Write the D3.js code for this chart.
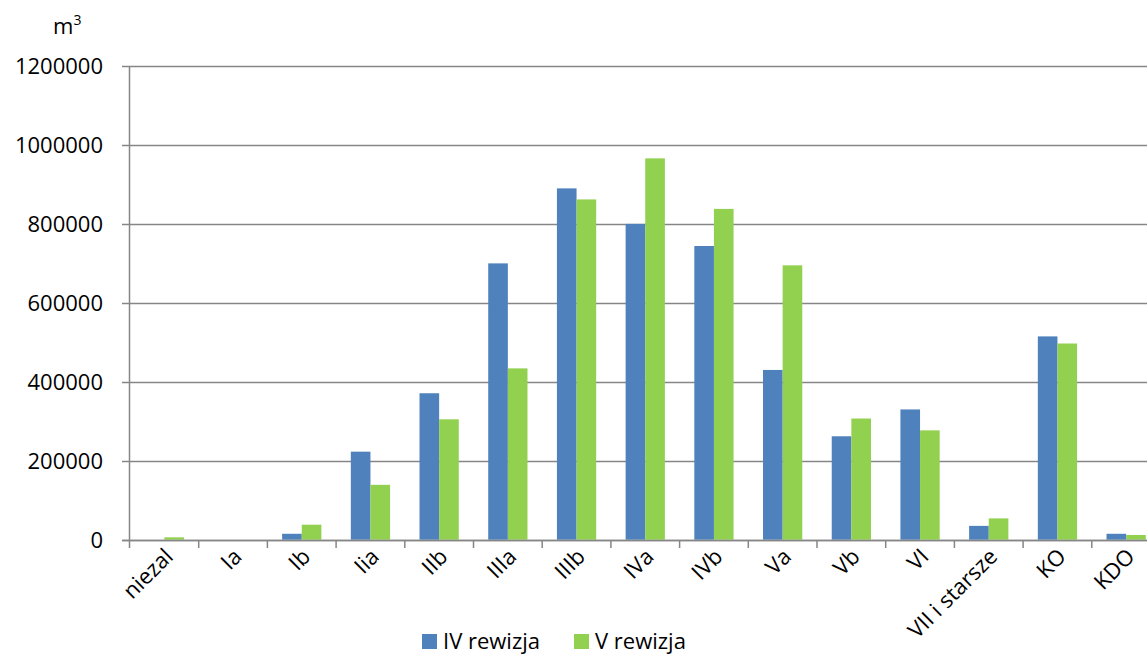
<!DOCTYPE html>
<html><head><meta charset="utf-8">
<script src="https://cdn.jsdelivr.net/npm/d3@7"></script>
<style>body{margin:0;background:#fff;overflow:hidden}svg{display:block;font-family:"Open Sans",sans-serif}</style>
</head><body>
<script>
const categories = ["niezal","Ia","Ib","Iia","IIb","IIIa","IIIb","IVa","IVb","Va","Vb","VI","VII i starsze","KO","KDO"];
const seriesIV = [0,0,15000,223000,371000,700000,890000,800000,744000,430000,262000,330000,35000,515000,15000];
const seriesV = [6000,0,38000,139000,305000,434000,862000,966000,838000,695000,307000,277000,54000,497000,12000];
const seriesNames = ["IV rewizja","V rewizja"];
const colors = ["#4F81BD","#92D050"];
const yTicks = [0,200000,400000,600000,800000,1000000,1200000];

const W=1147,H=655;
const svg=d3.select("body").append("svg").attr("width",W).attr("height",H);
const x0=d3.scaleBand().domain(categories).range([130,1160.5]).paddingInner(0).paddingOuter(0);
const y=d3.scaleLinear().domain([0,1200000]).range([539.7,66]);
const bw=x0.bandwidth()/3.5;
const x1=d3.scaleBand().domain([0,1]).range([0.75*bw,2.75*bw]);

svg.append("g").selectAll("line").data(yTicks).join("line")
 .attr("x1",122).attr("x2",W).attr("y1",d=>Math.round(y(d))+0.5).attr("y2",d=>Math.round(y(d))+0.5)
 .attr("stroke","#868686").attr("stroke-width",1.5);
svg.append("g").selectAll("text").data(yTicks).join("text")
 .attr("x",103).attr("y",d=>y(d)+8).attr("text-anchor","end").attr("font-size",22).attr("fill","#000")
 .text(d=>d);
const data=[seriesIV,seriesV];
const g=svg.append("g");
categories.forEach((c,i)=>{
  [0,1].forEach(s=>{
    const v=data[s][i];
    if(v<=0) return;
    g.append("rect").attr("x",x0(c)+x1(s)).attr("width",x1.bandwidth())
     .attr("y",y(v)).attr("height",y(0)-y(v)).attr("fill",colors[s]);
  });
});
svg.append("line").attr("x1",129.5).attr("x2",129.5).attr("y1",66).attr("y2",548).attr("stroke","#868686").attr("stroke-width",1.5);
svg.append("line").attr("x1",122).attr("x2",W).attr("y1",540.5).attr("y2",540.5).attr("stroke","#868686").attr("stroke-width",1.5);
svg.append("g").selectAll("line").data(categories.slice(1)).join("line")
 .attr("x1",d=>x0(d)).attr("x2",d=>x0(d)).attr("y1",540).attr("y2",548).attr("stroke","#868686").attr("stroke-width",1.5);
// category labels laid along 45-degree guide paths
const defs=svg.append("defs");
const lab=svg.append("g").attr("class","xlabels");
categories.forEach((c,i)=>{
  const ax=x0(c)+x0.bandwidth()/2+10, ay=558, L=300;
  const id="lp"+i;
  defs.append("path").attr("id",id)
   .attr("d",`M${ax-L*Math.SQRT1_2},${ay+L*Math.SQRT1_2}L${ax},${ay}`);
  lab.append("text").attr("font-size",22).attr("fill","#000")
   .append("textPath").attr("href","#"+id).attr("startOffset","100%").attr("text-anchor","end").text(c);
});
const u=svg.append("text").attr("x",53).attr("y",34).attr("font-size",22).attr("fill","#000");
u.append("tspan").text("m");
u.append("tspan").attr("font-size",14).attr("dy",-9).text("3");
const lx=[422,574];
seriesNames.forEach((n,i)=>{
  svg.append("rect").attr("x",lx[i]).attr("y",634).attr("width",15).attr("height",15).attr("fill",colors[i]);
  svg.append("text").attr("x",lx[i]+21).attr("y",649).attr("font-size",22).attr("fill","#000").text(n);
});
</script>
</body></html>
